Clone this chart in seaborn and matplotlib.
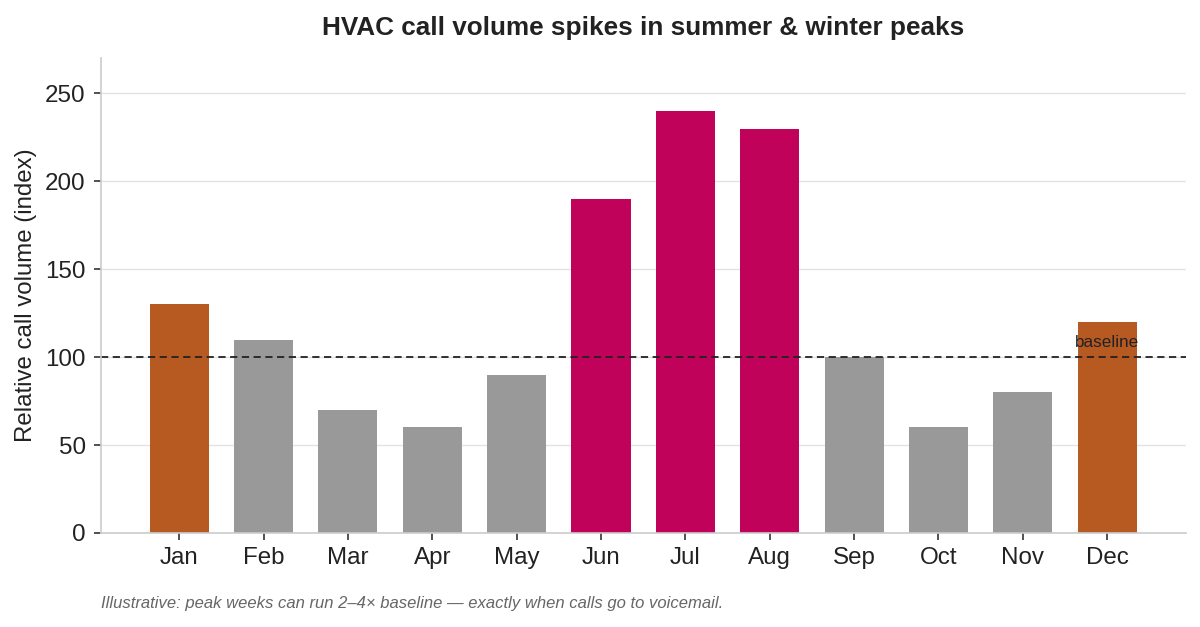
import numpy as np
import pandas as pd
import seaborn as sns
import matplotlib.pyplot as plt

months = ['Jan', 'Feb', 'Mar', 'Apr', 'May', 'Jun', 'Jul', 'Aug', 'Sep', 'Oct', 'Nov', 'Dec']
volume = [130, 110, 70, 60, 90, 190, 240, 230, 100, 60, 80, 120]
season = ['winter', 'other', 'other', 'other', 'other', 'summer', 'summer', 'summer',
          'other', 'other', 'other', 'winter']
baseline = 100

palette = {'winter': '#B65A22', 'summer': '#C0025A', 'other': '#999999'}

df = pd.DataFrame({'month': months, 'volume': volume, 'season': season})

sns.set_theme(style='whitegrid')
plt.rcParams['font.family'] = ['Liberation Sans', 'DejaVu Sans']

fig, ax = plt.subplots(figsize=(12, 6.27), dpi=100)
fig.subplots_adjust(left=0.084, right=0.988, top=0.907, bottom=0.15)

sns.barplot(data=df, x='month', y='volume', hue='season', palette=palette,
            dodge=False, width=0.7, legend=False, saturation=1, linewidth=0, ax=ax)

ax.axhline(baseline, color='#222222', linestyle='--', linewidth=1.3, dashes=(4, 2.5))
ax.text(11, baseline + 4, 'baseline', ha='center', va='bottom', fontsize=12.3, color='#222222')

ax.set_ylim(0, 270)
ax.set_xlim(-0.93, 11.93)
ax.set_yticks([0, 50, 100, 150, 200, 250])
ax.grid(axis='x', visible=False)
ax.grid(axis='y', color='#e3e3e3', linewidth=1)
ax.set_axisbelow(True)
sns.despine(ax=ax)
for s in ['left', 'bottom']:
    ax.spines[s].set_color('#cccccc')
    ax.spines[s].set_linewidth(1.2)
ax.tick_params(axis='both', which='both', length=5, width=1.2, color='#333333',
               labelsize=17.4, colors='#222222', pad=6, bottom=True, left=True)
ax.tick_params(axis='x', pad=5)
ax.set_xlabel('')
ax.set_ylabel('Relative call volume (index)', fontsize=17.3, color='#222222', labelpad=6)
ax.set_title('HVAC call volume spikes in summer & winter peaks', fontsize=18.8,
             fontweight='bold', color='#222222', pad=17)

fig.text(0.084, 0.03, 'Illustrative: peak weeks can run 2\u20134\u00d7 baseline \u2014 exactly when calls go to voicemail.',
         fontsize=12, style='italic', color='#666666')

fig.savefig('out.png', dpi=100)
